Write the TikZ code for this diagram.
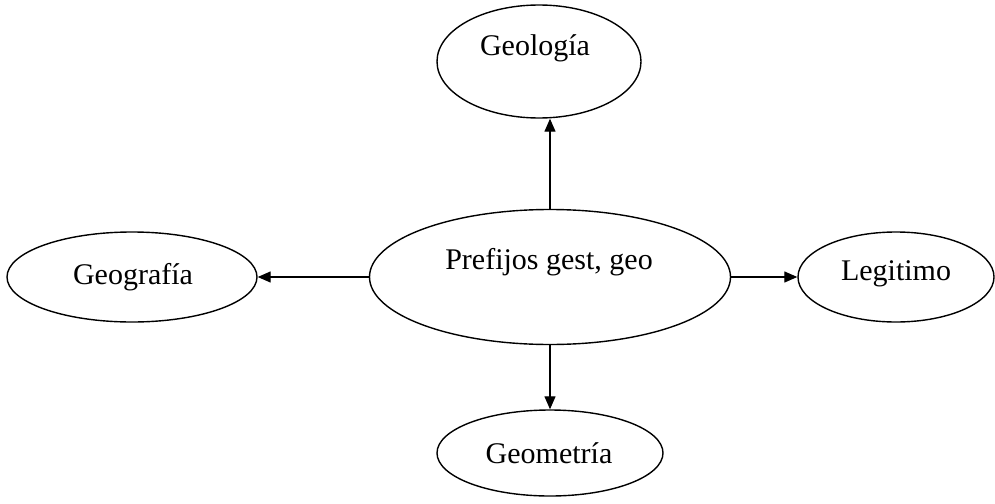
\documentclass[tikz,border=0pt]{standalone}
\usepackage{fontspec}
\setmainfont{Liberation Serif}
\usetikzlibrary{shapes.geometric,arrows.meta}
\begin{document}
\begin{tikzpicture}[x=1pt,y=-1pt,
  ell/.style={draw,ellipse,line width=1.4pt,inner sep=0pt},
  lbl/.style={font=\fontsize{30}{35}\selectfont,inner sep=0pt},
  arr/.style={line width=1.3pt,-{Triangle[length=13pt,width=11pt]}}]
\useasboundingbox (0,0) rectangle (995,503);
\node[ell,minimum width=204pt,minimum height=113pt] (geol) at (539,61.5) {};
\node[ell,minimum width=361pt,minimum height=135pt] (pre) at (550,277) {};
\node[ell,minimum width=250pt,minimum height=90pt] (geog) at (132,277) {};
\node[ell,minimum width=196pt,minimum height=90pt] (leg) at (896,277) {};
\node[ell,minimum width=226pt,minimum height=86pt] (geom) at (550,453) {};
\node[lbl] (tgeol) at (535,48) {Geología};
\node[lbl] (tpre) at (549,262) {Prefijos gest, geo};
\node[lbl] (tgeog) at (133,277) {Geografía};
\node[lbl] (tleg) at (896,274) {Legitimo};
\node[lbl] (tgeom) at (549,453) {Geometría};
\draw[arr] (pre.north) -- (pre.north |- geol.south);
\draw[arr] (pre.west) -- (geog.east);
\draw[arr] (pre.east) -- (leg.west);
\draw[arr] (pre.south) -- (geom.north);
\end{tikzpicture}
\end{document}
